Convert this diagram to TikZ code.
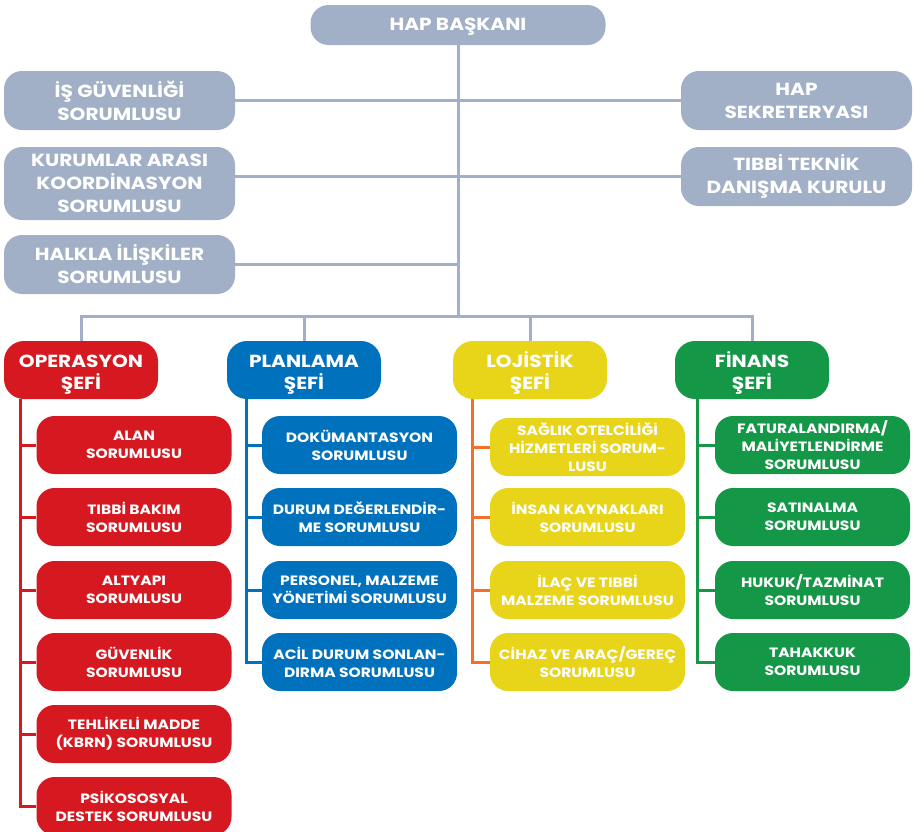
\documentclass[tikz,border=0pt]{standalone}
\usepackage{fontspec}
\setmainfont{Poppins}
\newfontfamily\widefont[FakeStretch=1.15]{Poppins}
\usetikzlibrary{backgrounds}
\definecolor{gbox}{RGB}{161,176,198}
\definecolor{cred}{RGB}{214,25,33}
\definecolor{cblue}{RGB}{0,113,188}
\definecolor{cyel}{RGB}{232,213,26}
\definecolor{cgreen}{RGB}{20,152,72}
\definecolor{corange}{RGB}{240,112,44}
\newcommand{\dn}[1]{\rule{0pt}{#1}}
\tikzset{
  graybox/.style={rounded corners=18pt, fill=gbox, text=white, align=center, inner sep=0pt,
    font=\widefont\bfseries\fontsize{17.5}{23}\selectfont, minimum width=231pt, minimum height=59pt},
  chiefbox/.style={rounded corners=20pt, fill=#1, text=white, align=center, inner sep=0pt,
    font=\widefont\bfseries\fontsize{17.5}{22}\selectfont, minimum width=154pt, minimum height=58pt},
  subbox/.style={rounded corners=18pt, fill=#1, text=white, align=center, inner sep=0pt,
    font=\widefont\bfseries\fontsize{13.5}{18}\selectfont, minimum width=195pt, minimum height=58pt},
  grayline/.style={draw=gbox, line width=3pt},
  colline/.style={draw=#1, line width=3pt},
}
\begin{document}
\begin{tikzpicture}[x=1pt,y=-1pt]
\useasboundingbox (0,0) rectangle (915,831);
% top
\node[graybox, minimum width=295pt, minimum height=40pt] (bas) at (458,25) {\dn{15pt}HAP BAŞKANI};
\node[graybox] (isg) at (119.5,100.5) {İŞ GÜVENLİĞİ\\SORUMLUSU};
\node[graybox, minimum height=73pt] (kur) at (119.5,183.5) {KURUMLAR ARASI\\KOORDİNASYON\\SORUMLUSU};
\node[graybox] (hal) at (119.5,264.5) {HALKLA İLİŞKİLER\\SORUMLUSU};
\node[graybox] (sek) at (796.5,100.5) {HAP\\SEKRETERYASI};
\node[graybox] (tib) at (796.5,176.5) {TIBBİ TEKNİK\\DANIŞMA KURULU};
\coordinate (bus) at (458,316);
% chiefs
\node[chiefbox=cred] (op) at (81,370) {\dn{22pt}OPERASYON\\ŞEFİ};
\node[chiefbox=cblue] (pl) at (304,370) {\dn{22pt}PLANLAMA\\ŞEFİ};
\node[chiefbox=cyel] (lo) at (530,370) {\dn{22pt}LOJİSTİK\\ŞEFİ};
\node[chiefbox=cgreen] (fin) at (752,370) {\dn{22pt}FİNANS\\ŞEFİ};
% operasyon
\node[subbox=cred] (o1) at (134,445) {ALAN\\SORUMLUSU};
\node[subbox=cred] (o2) at (134,517) {TIBBİ BAKIM\\SORUMLUSU};
\node[subbox=cred] (o3) at (134,590) {ALTYAPI\\SORUMLUSU};
\node[subbox=cred] (o4) at (134,662) {GÜVENLİK\\SORUMLUSU};
\node[subbox=cred] (o5) at (134,734) {TEHLİKELİ MADDE\\(KBRN) SORUMLUSU};
\node[subbox=cred] (o6) at (134,806) {PSİKOSOSYAL\\DESTEK SORUMLUSU};
% planlama
\node[subbox=cblue] (p1) at (359.5,445) {DOKÜMANTASYON\\SORUMLUSU};
\node[subbox=cblue] (p2) at (359.5,517) {DURUM DEĞERLENDİR-\\ME SORUMLUSU};
\node[subbox=cblue] (p3) at (359.5,590) {PERSONEL, MALZEME\\YÖNETİMİ SORUMLUSU};
\node[subbox=cblue] (p4) at (359.5,662) {ACİL DURUM SONLAN-\\DIRMA SORUMLUSU};
% lojistik
\node[subbox=cyel, font=\widefont\bfseries\fontsize{13.5}{18}\selectfont] (l1) at (587.5,447) {SAĞLIK OTELCİLİĞİ\\HİZMETLERİ SORUM-\\LUSU};
\node[subbox=cyel] (l2) at (587.5,517) {İNSAN KAYNAKLARI\\SORUMLUSU};
\node[subbox=cyel] (l3) at (587.5,590) {İLAÇ VE TIBBİ\\MALZEME SORUMLUSU};
\node[subbox=cyel] (l4) at (587.5,662) {CİHAZ VE ARAÇ/GEREÇ\\SORUMLUSU};
% finans
\node[subbox=cgreen, font=\widefont\bfseries\fontsize{13.5}{18}\selectfont] (f1) at (812.5,445) {FATURALANDIRMA/\\MALİYETLENDİRME\\SORUMLUSU};
\node[subbox=cgreen] (f2) at (812.5,517) {SATINALMA\\SORUMLUSU};
\node[subbox=cgreen] (f3) at (812.5,590) {HUKUK/TAZMİNAT\\SORUMLUSU};
\node[subbox=cgreen] (f4) at (812.5,662) {TAHAKKUK\\SORUMLUSU};
\coordinate (opl) at (20,399);
\coordinate (pll) at (246,399);
\coordinate (lol) at (472,399);
\coordinate (finl) at (697,399);
\begin{pgfonlayer}{background}
\draw[grayline] (bas.south) -- (bus);
\draw[grayline] (isg.east) -- (sek.west);
\draw[grayline] (tib.west) -- (tib.west -| kur.east);
\draw[grayline] (hal.east) -- (hal.east -| bus);
\draw[grayline] (op.north) |- (bus);
\draw[grayline] (fin.north) |- (bus);
\draw[grayline] (pl.north) -- (pl.north |- bus);
\draw[grayline] (lo.north) -- (lo.north |- bus);
\draw[colline=cred] (opl) |- (o6.west);
\foreach \n in {o1,o2,o3,o4,o5} \draw[colline=cred] (opl |- \n.west) -- (\n.west);
\draw[colline=cblue] (pll) |- (p4.west);
\foreach \n in {p1,p2,p3} \draw[colline=cblue] (pll |- \n.west) -- (\n.west);
\draw[colline=corange] (lol) |- (l4.west);
\foreach \n in {l1,l2,l3} \draw[colline=corange] (lol |- \n.west) -- (\n.west);
\draw[colline=cgreen] (finl) |- (f4.west);
\foreach \n in {f1,f2,f3} \draw[colline=cgreen] (finl |- \n.west) -- (\n.west);
\end{pgfonlayer}
\end{tikzpicture}
\end{document}
